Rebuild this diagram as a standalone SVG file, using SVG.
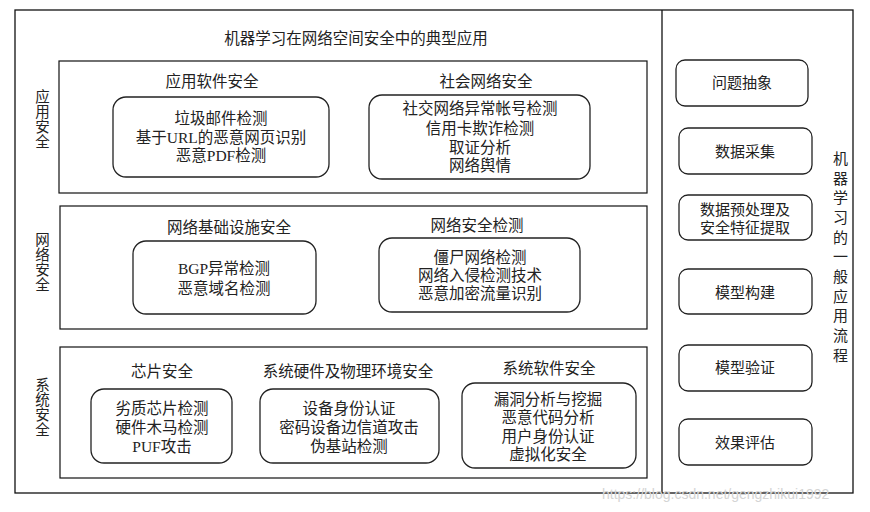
<svg xmlns="http://www.w3.org/2000/svg" width="870" height="512" viewBox="0 0 870 512">
<style>
text{font-family:"Liberation Serif","Noto Sans CJK SC",serif;font-size:15.5px;fill:#222;text-anchor:middle;dominant-baseline:central}
.frame{fill:none;stroke:#111;stroke-width:1.3}
.sec{fill:none;stroke:#111;stroke-width:1.2}
.node{fill:#fff;stroke:#222;stroke-width:1.3}
.step{font-size:15px}
.vert{writing-mode:vertical-rl;font-size:14.5px;letter-spacing:0.5px}
.vert2{writing-mode:vertical-rl;font-size:15px;letter-spacing:4.7px}
.wm{font-family:"Liberation Sans",sans-serif;font-size:14px;fill:#d4d4d4;text-anchor:start}
</style>
<rect width="870" height="512" fill="#fff"/>
<g id="frame">
<rect class="frame" x="15" y="10" width="838" height="483"/>
<line class="frame" x1="662" y1="10" x2="662" y2="493"/>
<text x="356" y="38">机器学习在网络空间安全中的典型应用</text>
</g>
<g id="sec-app">
<rect class="sec" x="59" y="61" width="588" height="132"/>
<text class="vert" x="41" y="119">应用安全</text>
</g>
<g id="app-soft">
<text x="212" y="81">应用软件安全</text>
<rect class="node" x="113" y="97" width="216" height="80" rx="13"/>
<text x="221" y="118">垃圾邮件检测</text>
<text x="221" y="137">基于URL的恶意网页识别</text>
<text x="221" y="155">恶意PDF检测</text>
</g>
<g id="app-social">
<text x="486" y="81">社会网络安全</text>
<rect class="node" x="369" y="95" width="221" height="84" rx="13"/>
<text x="480" y="108">社交网络异常帐号检测</text>
<text x="480" y="128">信用卡欺诈检测</text>
<text x="480" y="147">取证分析</text>
<text x="480" y="165">网络舆情</text>
</g>
<g id="sec-net">
<rect class="sec" x="60" y="206" width="587" height="123"/>
<text class="vert" x="41" y="262">网络安全</text>
</g>
<g id="net-infra">
<text x="229" y="227">网络基础设施安全</text>
<rect class="node" x="133" y="241" width="183" height="73" rx="13"/>
<text x="224" y="268">BGP异常检测</text>
<text x="224" y="288">恶意域名检测</text>
</g>
<g id="net-detect">
<text x="477" y="225">网络安全检测</text>
<rect class="node" x="379" y="238" width="201" height="74" rx="13"/>
<text x="480" y="257">僵尸网络检测</text>
<text x="480" y="275">网络入侵检测技术</text>
<text x="480" y="293">恶意加密流量识别</text>
</g>
<g id="sec-sys">
<rect class="sec" x="60" y="347" width="587" height="131"/>
<text class="vert" x="41" y="407">系统安全</text>
</g>
<g id="sys-chip">
<text x="162" y="371">芯片安全</text>
<rect class="node" x="91" y="389" width="141" height="74" rx="13"/>
<text x="162" y="408">劣质芯片检测</text>
<text x="162" y="427">硬件木马检测</text>
<text x="162" y="446">PUF攻击</text>
</g>
<g id="sys-hw">
<text x="348" y="371">系统硬件及物理环境安全</text>
<rect class="node" x="260" y="389" width="179" height="74" rx="13"/>
<text x="349" y="408">设备身份认证</text>
<text x="349" y="427">密码设备边信道攻击</text>
<text x="349" y="446">伪基站检测</text>
</g>
<g id="sys-sw">
<text x="549" y="368">系统软件安全</text>
<rect class="node" x="462" y="383" width="174" height="85" rx="13"/>
<text x="548" y="399">漏洞分析与挖掘</text>
<text x="548" y="417">恶意代码分析</text>
<text x="548" y="436">用户身份认证</text>
<text x="548" y="454">虚拟化安全</text>
</g>
<g id="flow-label">
<text class="vert2" x="839" y="259">机器学习的一般应用流程</text>
</g>
<g id="step1"><rect class="node" x="676" y="60" width="132" height="46" rx="9"/><text class="step" x="742" y="83">问题抽象</text></g>
<g id="step2"><rect class="node" x="679" y="128" width="133" height="46" rx="9"/><text class="step" x="745" y="152">数据采集</text></g>
<g id="step3"><rect class="node" x="679" y="195" width="133" height="45" rx="9"/><text class="step" x="745" y="210">数据预处理及</text><text class="step" x="745" y="228">安全特征提取</text></g>
<g id="step4"><rect class="node" x="679" y="269" width="133" height="45" rx="9"/><text class="step" x="745" y="293">模型构建</text></g>
<g id="step5"><rect class="node" x="679" y="345" width="133" height="46" rx="9"/><text class="step" x="745" y="368">模型验证</text></g>
<g id="step6"><rect class="node" x="679" y="419" width="133" height="46" rx="9"/><text class="step" x="745" y="443">效果评估</text></g>
<g id="connectors"></g>
<text class="wm" x="602" y="494">https://blog.csdn.net/gengzhikui1992</text>
</svg>
